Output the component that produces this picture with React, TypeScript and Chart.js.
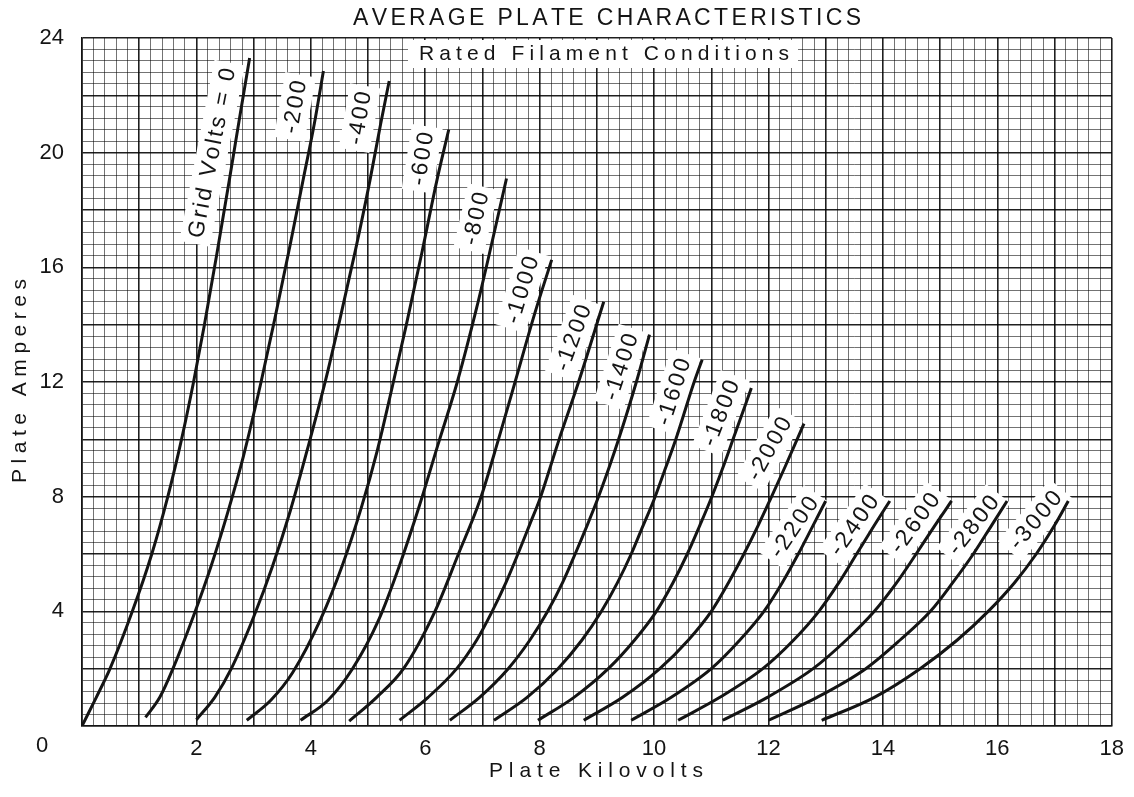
import React, { useEffect, useRef } from 'react';
import { Chart, registerables } from 'chart.js';

Chart.register(...registerables);

// ---------------- DATA ----------------
const gridVolts = [0, -200, -400, -600, -800, -1000, -1200, -1400, -1600, -1800, -2000, -2200, -2400, -2600, -2800, -3000];

// each curve: [plate kilovolts, plate amperes]
const curveVg0 = [[0, 0], [0.25, 1], [0.49, 2], [0.88, 4], [1.22, 6], [1.5, 8], [1.74, 10], [1.95, 12], [2.14, 14], [2.36, 16.5], [2.58, 19.1], [2.77, 21.4], [2.93, 23.3]];
const curveVg200 = [[1.11, 0.3], [1.36, 1], [1.59, 2], [1.97, 3.95], [2.26, 5.6], [2.54, 7.4], [2.82, 9.4], [3.13, 12.0], [3.37, 14.2], [3.63, 16.7], [3.87, 19.1], [4.06, 21.0], [4.22, 22.85]];
const curveVg400 = [[2.0, 0.22], [2.32, 1], [2.61, 2], [3.0, 3.8], [3.33, 5.57], [3.64, 7.5], [3.96, 9.8], [4.26, 12.08], [4.51, 14.2], [4.78, 16.6], [5.03, 19], [5.22, 21], [5.37, 22.5]];
const curveVg600 = [[2.88, 0.2], [3.3, 0.9], [3.68, 1.86], [4.17, 3.72], [4.55, 5.6], [4.88, 7.6], [5.16, 9.6], [5.42, 11.8], [5.67, 14], [5.94, 16.5], [6.2, 19], [6.41, 20.8]];
const curveVg800 = [[3.82, 0.2], [4.3, 0.9], [4.72, 1.97], [5.19, 3.72], [5.55, 5.6], [5.9, 7.7], [6.22, 9.8], [6.56, 12.0], [6.9, 14.6], [7.17, 16.9], [7.42, 19.1]];
const curveVg1000 = [[4.67, 0.17], [5.15, 1], [5.62, 2], [6.17, 4], [6.58, 6], [6.96, 7.9], [7.28, 10], [7.57, 12], [7.9, 14.3], [8.21, 16.26]];
const curveVg1200 = [[5.55, 0.2], [6.05, 1], [6.55, 2], [6.9, 3], [7.17, 4], [7.41, 5], [7.62, 6], [7.82, 7], [8.0, 7.9], [8.18, 9], [8.34, 10], [8.68, 12], [9.12, 14.8]];
const curveVg1400 = [[6.43, 0.2], [6.95, 1], [7.45, 2], [7.83, 3], [8.14, 4], [8.4, 5], [8.62, 6], [8.83, 7], [9.01, 7.9], [9.21, 9], [9.38, 10], [9.69, 12], [9.92, 13.65]];
const curveVg1600 = [[7.2, 0.2], [7.78, 1], [8.32, 2], [8.74, 3], [9.08, 4], [9.36, 5], [9.6, 6], [9.81, 7], [10.0, 7.9], [10.2, 9], [10.38, 10], [10.7, 12], [10.84, 12.78]];
const curveVg1800 = [[7.97, 0.2], [8.6, 1], [9.2, 2], [9.66, 3], [10.04, 4], [10.33, 5], [10.58, 6], [10.8, 7], [10.99, 7.9], [11.2, 9], [11.38, 10], [11.7, 11.79]];
const curveVg2000 = [[8.77, 0.2], [9.45, 1], [10.1, 2], [10.6, 3], [11.0, 4], [11.3, 5], [11.57, 6], [11.82, 7], [12.03, 7.9], [12.28, 9], [12.5, 10], [12.62, 10.55]];
const curveVg2200 = [[9.6, 0.2], [10.3, 1], [11.0, 2], [11.5, 3], [11.92, 4], [12.24, 5], [12.52, 6], [12.78, 7], [13.0, 7.85]];
const curveVg2400 = [[10.42, 0.2], [11.15, 1], [11.9, 2], [12.44, 3], [12.88, 4], [13.23, 5], [13.54, 6], [13.85, 7], [14.12, 7.85]];
const curveVg2600 = [[11.2, 0.2], [11.98, 1], [12.78, 2], [13.36, 3], [13.85, 4], [14.24, 5], [14.58, 6], [14.91, 7], [15.2, 7.85]];
const curveVg2800 = [[12.0, 0.2], [12.85, 1], [13.7, 2], [14.3, 3], [14.83, 4], [15.22, 5], [15.58, 6], [15.9, 7], [16.17, 7.85]];
const curveVg3000 = [[12.93, 0.2], [13.85, 1], [14.65, 2], [15.3, 3], [15.84, 4], [16.3, 5], [16.68, 6], [17.0, 7], [17.24, 7.85]];

const curves = [curveVg0, curveVg200, curveVg400, curveVg600, curveVg800, curveVg1000, curveVg1200, curveVg1400,
  curveVg1600, curveVg1800, curveVg2000, curveVg2200, curveVg2400, curveVg2600, curveVg2800, curveVg3000];

const curveLabels = ['Grid Volts = 0', '-200', '-400', '-600', '-800', '-1000', '-1200', '-1400', '-1600', '-1800', '-2000', '-2200', '-2400', '-2600', '-2800', '-3000'];

const xTickLabels = [2, 4, 6, 8, 10, 12, 14, 16, 18];
const yTickLabels = [4, 8, 12, 16, 20, 24];
const originLabel = '0';

const titleText = 'AVERAGE PLATE CHARACTERISTICS';
const subtitleText = 'Rated Filament Conditions';
const xAxisTitle = 'Plate Kilovolts';
const yAxisTitle = 'Plate Amperes';

// ---------------- LAYOUT / STYLE ----------------
// label placement: pixel offset from the curve's last point and rotation (deg)
const labelLayout = [
  { dx: -38, dy: 95, rot: -79 }, { dx: -29, dy: 36, rot: -80 }, { dx: -30, dy: 37, rot: -80 }, { dx: -27, dy: 29, rot: -81 },
  { dx: -31, dy: 40, rot: -77 }, { dx: -30, dy: 30, rot: -73 }, { dx: -31, dy: 36, rot: -70 }, { dx: -29, dy: 32, rot: -72 },
  { dx: -29, dy: 32, rot: -72 }, { dx: -31, dy: 25, rot: -69 }, { dx: -35, dy: 25, rot: -61 }, { dx: -32, dy: 26, rot: -56 },
  { dx: -36, dy: 24, rot: -55 }, { dx: -37, dy: 22, rot: -54 }, { dx: -34, dy: 24, rot: -52 }, { dx: -33, dy: 19, rot: -50 },
];

const FONT = '"Liberation Sans", Arial, sans-serif';
const INK = '#141414';

function near(v: number, step: number) {
  const r = v / step;
  return Math.abs(r - Math.round(r)) < 1e-6;
}

function drawSpaced(ctx: CanvasRenderingContext2D, text: string, cx: number, cy: number, width: number | null, spacing = 0) {
  const chars = Array.from(text);
  const widths = chars.map((ch) => ctx.measureText(ch).width);
  const total = widths.reduce((a, b) => a + b, 0);
  const gap = width != null && chars.length > 1 ? (width - total) / (chars.length - 1) : spacing;
  const full = total + gap * (chars.length - 1);
  let x = cx - full / 2;
  ctx.textAlign = 'left';
  ctx.textBaseline = 'middle';
  chars.forEach((ch, i) => {
    ctx.fillText(ch, x, cy);
    x += widths[i] + gap;
  });
  return full;
}

const decorPlugin = {
  id: 'decor',
  beforeDatasetsDraw(chart: any) {
    const { ctx, scales } = chart;
    const xs = scales.x;
    const ys = scales.y;
    ctx.save();
    // subtitle box
    ctx.fillStyle = '#ffffff';
    ctx.fillRect(408, 40, 390, 28);
    ctx.fillStyle = INK;
    ctx.font = `21px ${FONT}`;
    drawSpaced(ctx, subtitleText, 604, 54, 370);

    // curve labels
    curves.forEach((c, i) => {
      const last = c[c.length - 1];
      const px = xs.getPixelForValue(last[0]);
      const py = ys.getPixelForValue(last[1]);
      const L = labelLayout[i];
      ctx.save();
      ctx.translate(px + L.dx, py + L.dy);
      ctx.rotate((L.rot * Math.PI) / 180);
      ctx.font = `23px ${FONT}`;
      const chars = Array.from(curveLabels[i]);
      const tw = chars.reduce((a, ch) => a + ctx.measureText(ch).width, 0) + 2.5 * (chars.length - 1);
      ctx.fillStyle = '#ffffff';
      ctx.fillRect(-tw / 2 - 6, -15, tw + 12, 31);
      ctx.fillStyle = INK;
      drawSpaced(ctx, curveLabels[i], 0, 1, null, 2.5);
      ctx.restore();
    });
    ctx.restore();
  },
  afterDraw(chart: any) {
    const { ctx } = chart;
    ctx.save();
    ctx.fillStyle = INK;
    ctx.font = `23px ${FONT}`;
    drawSpaced(ctx, titleText, 607, 19, 508);
    ctx.font = `21px ${FONT}`;
    drawSpaced(ctx, xAxisTitle, 596, 771, 214);
    ctx.save();
    ctx.translate(20, 381);
    ctx.rotate(-Math.PI / 2);
    drawSpaced(ctx, yAxisTitle, 0, 0, 204);
    ctx.restore();
    ctx.font = `22px ${FONT}`;
    ctx.textAlign = 'center';
    ctx.textBaseline = 'middle';
    ctx.fillText(originLabel, 42, 746);
    ctx.restore();
  },
};

export default function App() {
  const ref = useRef<HTMLCanvasElement | null>(null);

  useEffect(() => {
    if (!ref.current) return;
    const datasets = curves.map((c, i) => ({
      label: curveLabels[i] + ' (' + gridVolts[i] + ' V)',
      data: c.map((p) => ({ x: p[0], y: p[1] })),
      borderColor: INK,
      backgroundColor: INK,
      borderWidth: 3,
      pointRadius: 0,
      cubicInterpolationMode: 'monotone' as const,
      fill: false,
    }));

    const chart = new Chart(ref.current, {
      type: 'line',
      data: { datasets },
      plugins: [decorPlugin],
      options: {
        responsive: false,
        animation: false,
        layout: { padding: { top: 38, right: 11, left: 0, bottom: 0 } },
        plugins: { legend: { display: false }, tooltip: { enabled: false }, title: { display: false } },
        scales: {
          x: {
            type: 'linear',
            min: 0,
            max: 18,
            afterFit: (s: any) => { s.height = 71; },
            border: { display: true, color: INK, width: 1.6 },
            grid: {
              drawTicks: false,
              color: (c: any) => (near(c.tick.value, 1) ? 'rgba(0,0,0,0.88)' : 'rgba(0,0,0,0.55)'),
              lineWidth: (c: any) => (near(c.tick.value, 1) ? 1.6 : 1),
            },
            ticks: {
              stepSize: 0.2,
              autoSkip: false,
              maxRotation: 0,
              minRotation: 0,
              padding: 10,
              color: INK,
              font: { family: FONT, size: 22 },
              callback: (v: any) => {
                const n = Number(v);
                const hit = xTickLabels.find((t) => Math.abs(t - n) < 1e-6);
                return hit !== undefined ? String(hit) : '';
              },
            },
          },
          y: {
            type: 'linear',
            min: 0,
            max: 24,
            afterFit: (s: any) => { s.width = 82; },
            border: { display: true, color: INK, width: 1.6 },
            grid: {
              drawTicks: false,
              color: (c: any) => (near(c.tick.value, 2) ? 'rgba(0,0,0,0.88)' : 'rgba(0,0,0,0.55)'),
              lineWidth: (c: any) => (near(c.tick.value, 2) ? 1.6 : 1),
            },
            ticks: {
              stepSize: 0.4,
              autoSkip: false,
              padding: 18,
              color: INK,
              font: { family: FONT, size: 22 },
              callback: (v: any) => {
                const n = Number(v);
                const hit = yTickLabels.find((t) => Math.abs(t - n) < 1e-6);
                return hit !== undefined ? String(hit) : '';
              },
            },
          },
        },
      },
    });
    return () => chart.destroy();
  }, []);

  return (
    <div style={{ position: 'absolute', left: 0, top: 0, width: 1134, height: 797, background: '#fff' }}>
      <canvas ref={ref} width={1134} height={797} style={{ display: 'block' }} />
    </div>
  );
}
